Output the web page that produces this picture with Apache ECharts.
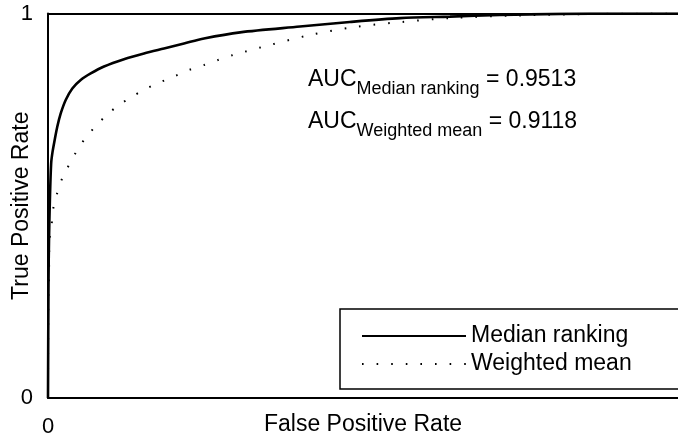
<!DOCTYPE html>
<html>
<head>
<meta charset="utf-8">
<script src="https://cdn.jsdelivr.net/npm/echarts@6/dist/echarts.min.js"></script>
<style>
  html, body { margin: 0; padding: 0; background: #fff; }
  #main { width: 678px; height: 436px; }
</style>
</head>
<body>
<div id="main"></div>
<script>
// ROC curves (false positive rate, true positive rate)
var fprMedian = [0, 0.0008, 0.0016, 0.0030, 0.0050, 0.0072, 0.0106, 0.0148, 0.0202, 0.0281, 0.0386, 0.0519, 0.0678, 0.0889, 0.1206, 0.1524, 0.1841, 0.2159, 0.2476, 0.305, 0.40, 0.479, 0.559, 0.638, 0.717, 0.813, 0.908, 1];
var tprMedian = [0, 0.30, 0.411, 0.515, 0.610, 0.640, 0.671, 0.706, 0.740, 0.775, 0.805, 0.827, 0.844, 0.862, 0.881, 0.896, 0.909, 0.922, 0.935, 0.951, 0.966, 0.978, 0.988, 0.992, 0.996, 0.999, 1, 1];

var fprWeighted = [0, 0.0005, 0.0016, 0.0024, 0.0059, 0.0079, 0.0143, 0.0222, 0.0333, 0.0456, 0.0598, 0.0757, 0.0932, 0.1127, 0.1338, 0.155, 0.1778, 0.2011, 0.2238, 0.2476, 0.2698, 0.2937, 0.352, 0.4159, 0.4873, 0.5619, 0.638, 0.749, 0.876, 1];
var tprWeighted = [0, 0.24, 0.328, 0.411, 0.453, 0.489, 0.531, 0.570, 0.606, 0.642, 0.677, 0.707, 0.736, 0.762, 0.784, 0.804, 0.821, 0.837, 0.853, 0.866, 0.879, 0.892, 0.918, 0.944, 0.965, 0.978, 0.988, 0.995, 0.999, 1];

var seriesNames = ['Median ranking', 'Weighted mean'];
var aucValues = ['0.9513', '0.9118'];
var axisTicks = [0, 1];

var FONT = '"Liberation Sans", Arial, sans-serif';

function zip(xs, ys) {
  return xs.map(function (x, i) { return [x, ys[i]]; });
}

var chart = echarts.init(document.getElementById('main'), null, { renderer: 'canvas' });

function aucText(name, value) {
  return '{m|AUC}{s|' + name + '}{m| = ' + value + '}';
}
var aucRich = {
  m: { fontSize: 23, fontFamily: FONT, color: '#000', verticalAlign: 'bottom', padding: [0, 0, 7, 0] },
  s: { fontSize: 18, fontFamily: FONT, color: '#000', verticalAlign: 'bottom' }
};

var option = {
  backgroundColor: '#fff',
  animation: false,
  grid: {
    left: 48,
    right: 0,
    top: 13.5,
    bottom: 38,
    containLabel: false,
    outerBoundsMode: 'none'
  },
  legend: {
    data: seriesNames,
    orient: 'vertical',
    left: 340,
    top: 309,
    padding: [15, 80, 13, 21],
    itemGap: 4,
    itemWidth: 104,
    itemHeight: 14,
    itemStyle: { opacity: 0 },
    borderColor: '#000',
    borderWidth: 1.5,
    borderRadius: 0,
    textStyle: { fontSize: 23, fontFamily: FONT, color: '#000', lineHeight: 24 }
  },
  xAxis: {
    type: 'value',
    min: axisTicks[0],
    max: axisTicks[1],
    interval: 1,
    name: 'False Positive Rate',
    nameLocation: 'middle',
    nameGap: 15,
    nameMoveOverlap: false,
    nameTextStyle: { fontSize: 23, fontFamily: FONT, color: '#000' },
    axisLine: { lineStyle: { color: '#000', width: 2 } },
    axisTick: { show: false },
    axisLabel: { showMaxLabel: false, margin: 18, fontSize: 22, fontFamily: FONT, color: '#000' },
    splitLine: { show: false }
  },
  yAxis: {
    type: 'value',
    min: axisTicks[0],
    max: axisTicks[1],
    interval: 1,
    name: 'True Positive Rate',
    nameLocation: 'middle',
    nameRotate: 90,
    nameGap: 15,
    nameMoveOverlap: false,
    nameTextStyle: { fontSize: 23, fontFamily: FONT, color: '#000' },
    axisLine: { show: true, lineStyle: { color: '#000', width: 2 } },
    axisTick: { show: false },
    axisLabel: { margin: 15, fontSize: 22, fontFamily: FONT, color: '#000' },
    splitLine: { show: true, lineStyle: { color: '#000', width: 2 } }
  },
  graphic: [
    {
      type: 'text',
      left: 308,
      top: 68,
      style: { text: aucText('Median ranking', aucValues[0]), rich: aucRich }
    },
    {
      type: 'text',
      left: 308,
      top: 110,
      style: { text: aucText('Weighted mean', aucValues[1]), rich: aucRich }
    }
  ],
  series: [
    {
      name: seriesNames[0],
      type: 'line',
      data: zip(fprMedian, tprMedian),
      smooth: 0.3,
      showSymbol: false,
      symbol: 'none',
      lineStyle: { color: '#000', width: 2.6 },
      itemStyle: { color: '#000' },
      z: 3
    },
    {
      name: seriesNames[1],
      type: 'line',
      data: zip(fprWeighted, tprWeighted),
      smooth: 0.3,
      showSymbol: false,
      symbol: 'none',
      lineStyle: { color: '#000', width: 2, type: [1.6, 13] },
      itemStyle: { color: '#000' },
      z: 2
    }
  ]
};

chart.setOption(option);
</script>
</body>
</html>
